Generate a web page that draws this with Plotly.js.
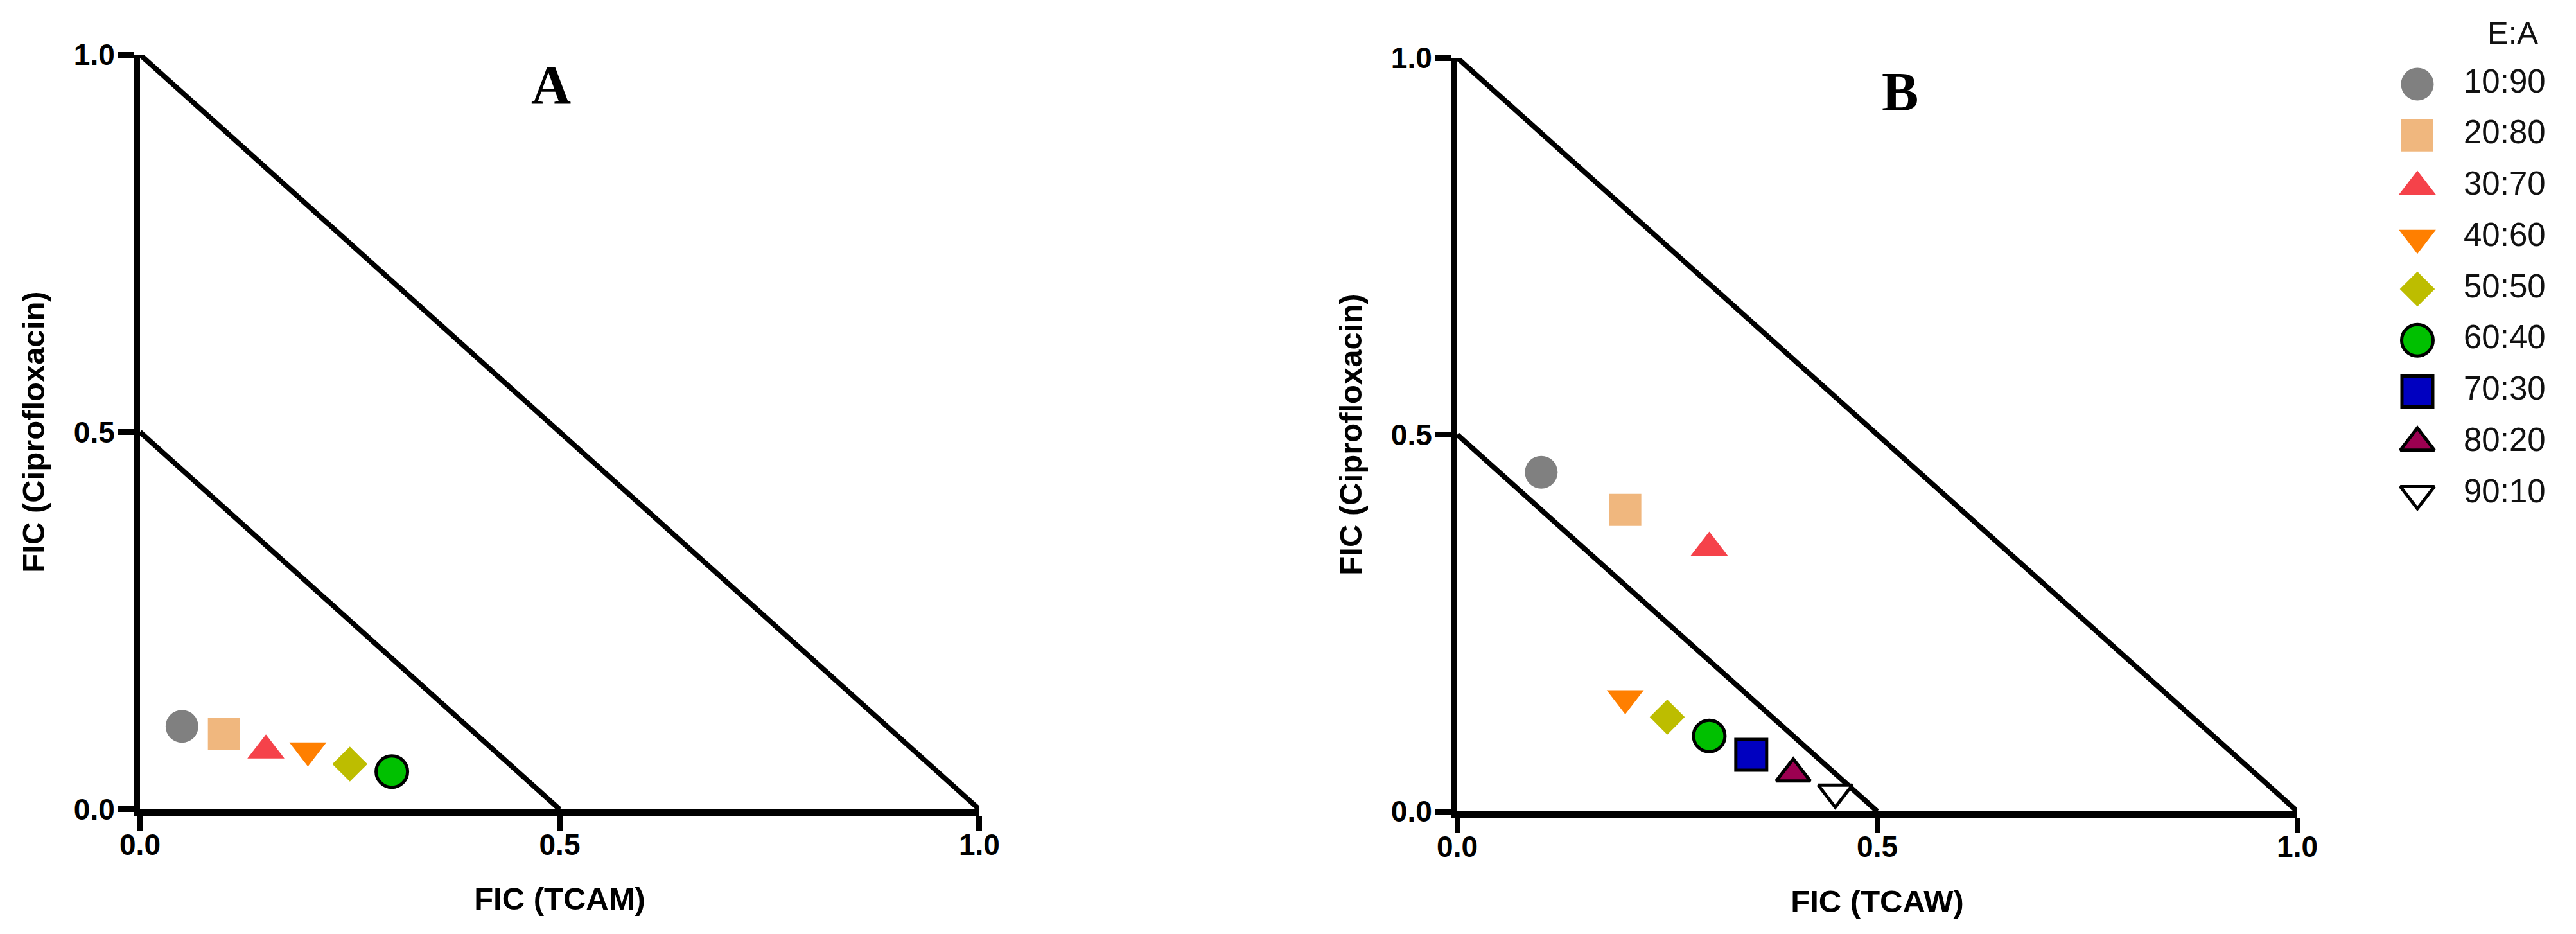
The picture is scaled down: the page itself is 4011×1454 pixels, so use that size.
<!DOCTYPE html>
<html>
<head>
<meta charset="utf-8">
<script src="https://cdn.plot.ly/plotly-3.0.1.min.js"></script>
<style>
    html, body { margin: 0; padding: 0; background: #ffffff; }
    #chart { width: 4011px; height: 1454px; }
</style>
</head>
<body>
<div id="chart"></div>
<script>
// E:A ratios and how each one is drawn
const ratios = ['10:90', '20:80', '30:70', '40:60', '50:50', '60:40', '70:30', '80:20', '90:10'];
const symbols = ['circle', 'square', 'triangle-up', 'triangle-down', 'diamond', 'circle', 'square', 'triangle-up', 'triangle-down'];
const fillColors = ['#808080', '#F0B77E', '#F5424A', '#FF7F00', '#BDBD00', '#00C000', '#0000C0', '#9C0051', '#FFFFFF'];
const outlineColors = ['#808080', '#F0B77E', '#F5424A', '#FF7F00', '#BDBD00', '#000000', '#000000', '#000000', '#000000'];
const outlineWidths = [0, 0, 0, 0, 0, 5, 5, 5, 5];
const markerSizes = [51, 50, 50, 50, 42, 49, 48, 46, 46];

// Panel A: TCAM + ciprofloxacin (first six ratios)
const ficTCAM = [0.05, 0.1, 0.15, 0.2, 0.25, 0.3];
const ficCiproA = [0.11, 0.1, 0.078, 0.078, 0.06, 0.05];

// Panel B: TCAW + ciprofloxacin (all nine ratios)
const ficTCAW = [0.1, 0.2, 0.3, 0.2, 0.25, 0.3, 0.35, 0.4, 0.45];
const ficCiproB = [0.45, 0.4, 0.35, 0.15, 0.125, 0.1, 0.075, 0.05, 0.025];

// Isobole reference lines
const additiveX = [0, 1];
const additiveY = [1, 0];
const synergyX = [0, 0.5];
const synergyY = [0.5, 0];

const tickValues = [0, 0.5, 1];
const tickLabels = ['0.0', '0.5', '1.0'];

const sansFont = 'Liberation Sans, Arial, sans-serif';
const serifFont = 'Liberation Serif, Times New Roman, serif';

document.addEventListener('DOMContentLoaded', function() {
    drawChart();
});

// Marker style for the first n ratios
function markerFor(n) {
    return {
        symbol: symbols.slice(0, n),
        color: fillColors.slice(0, n),
        size: markerSizes.slice(0, n),
        opacity: 1,
        line: {
            color: outlineColors.slice(0, n),
            width: outlineWidths.slice(0, n)
        }
    };
}

function lineTrace(x, y, xa, ya) {
    return {
        x: x,
        y: y,
        xaxis: xa,
        yaxis: ya,
        type: 'scatter',
        mode: 'lines',
        line: { color: '#000000', width: 8 },
        hoverinfo: 'skip',
        showlegend: false
    };
}

function axisStyle(domain, anchor, titleText, isY) {
    return {
        domain: domain,
        anchor: anchor,
        range: [0, 1],
        autorange: false,
        showgrid: false,
        zeroline: false,
        showline: true,
        linecolor: '#000000',
        linewidth: 10,
        ticks: 'outside',
        ticklen: 24,
        tickwidth: 9,
        tickcolor: '#000000',
        tickvals: tickValues,
        ticktext: tickLabels,
        ticklabelstandoff: isY ? -4 : -18,
        tickfont: { family: sansFont, size: 46, weight: 'bold', color: '#000000' },
        title: {
            text: titleText,
            standoff: isY ? 34 : 46,
            font: { family: sansFont, size: 49, weight: 'bold', color: '#000000' }
        }
    };
}

function drawChart() {
    const traces = [
        lineTrace(additiveX, additiveY, 'x', 'y'),
        lineTrace(synergyX, synergyY, 'x', 'y'),
        {
            x: ficTCAM,
            y: ficCiproA,
            xaxis: 'x',
            yaxis: 'y',
            type: 'scatter',
            mode: 'markers',
            marker: markerFor(ficTCAM.length),
            cliponaxis: false,
            showlegend: false
        },
        lineTrace(additiveX, additiveY, 'x2', 'y2'),
        lineTrace(synergyX, synergyY, 'x2', 'y2'),
        {
            x: ficTCAW,
            y: ficCiproB,
            xaxis: 'x2',
            yaxis: 'y2',
            type: 'scatter',
            mode: 'markers',
            marker: markerFor(ficTCAW.length),
            cliponaxis: false,
            showlegend: false
        },
        // Hand-made legend: one row per ratio
        {
            x: ratios.map(() => 64),
            y: ratios.map((r, i) => i),
            xaxis: 'x3',
            yaxis: 'y3',
            type: 'scatter',
            mode: 'markers',
            marker: markerFor(ratios.length),
            cliponaxis: false,
            showlegend: false
        },
        {
            x: ratios.map(() => 136),
            y: ratios.map((r, i) => i),
            text: ratios,
            xaxis: 'x3',
            yaxis: 'y3',
            type: 'scatter',
            mode: 'text',
            textposition: 'middle right',
            textfont: { family: sansFont, size: 51, color: '#111111' },
            cliponaxis: false,
            showlegend: false
        }
    ];

    const layout = {
        width: 4011,
        height: 1454,
        margin: { l: 0, r: 0, t: 0, b: 0 },
        paper_bgcolor: '#ffffff',
        plot_bgcolor: 'rgba(0,0,0,0)',
        showlegend: false,
        xaxis: axisStyle([0.05435, 0.38020], 'y', 'FIC (TCAM)', false),
        yaxis: axisStyle([0.13343, 0.94154], 'x', 'FIC (Ciprofloxacin)', true),
        xaxis2: axisStyle([0.56570, 0.89180], 'y2', 'FIC (TCAW)', false),
        yaxis2: axisStyle([0.13136, 0.93810], 'x2', 'FIC (Ciprofloxacin)', true),
        xaxis3: {
            domain: [0.92246, 0.99726], anchor: 'y3', range: [0, 300],
            visible: false, fixedrange: true
        },
        yaxis3: {
            domain: [0.4163, 0.9648], anchor: 'x3', range: [9, -1],
            visible: false, fixedrange: true
        },
        annotations: [
            {
                text: 'A', xref: 'x', yref: 'y', x: 0.49, y: 0.96,
                showarrow: false,
                font: { family: serifFont, size: 86, weight: 'bold', color: '#000000' }
            },
            {
                text: 'B', xref: 'x2', yref: 'y2', x: 0.527, y: 0.955,
                showarrow: false,
                font: { family: serifFont, size: 86, weight: 'bold', color: '#000000' }
            },
            {
                text: 'E:A', xref: 'x3', yref: 'y3', x: 212, y: -1,
                showarrow: false,
                font: { family: sansFont, size: 49, color: '#111111' }
            }
        ]
    };

    Plotly.newPlot('chart', traces, layout, { staticPlot: true });
}
</script>
</body>
</html>
